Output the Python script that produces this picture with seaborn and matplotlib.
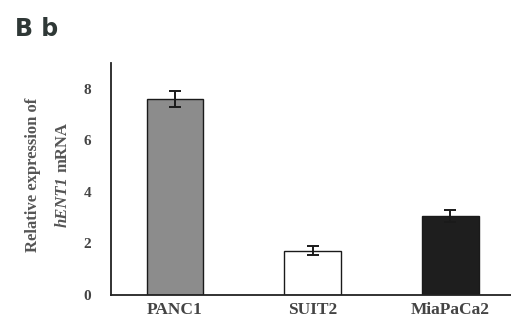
import matplotlib
matplotlib.use("Agg")
import matplotlib.pyplot as plt
import seaborn as sns
import pandas as pd

# Relative hENT1 mRNA expression per pancreatic cancer cell line
cell_lines = ["PANC1", "SUIT2", "MiaPaCa2"]
expression = [7.6, 1.72, 3.07]
sem = [0.32, 0.18, 0.23]
bar_colors = ["#8c8c8c", "#ffffff", "#1e1e1e"]
y_ticks = [0, 2, 4, 6, 8]

sns.set_theme(style="white")
plt.rcParams["font.family"] = ["Liberation Serif", "DejaVu Serif"]

df = pd.DataFrame({"line": cell_lines, "value": expression})

fig = plt.figure(figsize=(5.11, 3.2), dpi=100)
ax = fig.add_axes([0.217, 0.078, 0.783, 0.725])

sns.barplot(data=df, x="line", y="value", hue="line", palette=bar_colors,
            order=cell_lines, hue_order=cell_lines, legend=False,
            width=0.41, edgecolor="#1a1a1a", linewidth=1.0, errorbar=None, ax=ax)

ax.errorbar(range(len(cell_lines)), expression, yerr=sem, fmt="none",
            ecolor="#1a1a1a", elinewidth=1.4, capsize=4, capthick=1.4)

ax.set_ylim(0, 9)
ax.set_xlim(-0.465, 2.44)
ax.set_yticks(y_ticks)
ax.set_yticklabels([str(t) for t in y_ticks], fontsize=11, fontweight="bold", color="#444444")
ax.set_xticks(range(len(cell_lines)))
ax.set_xticklabels(cell_lines, fontsize=12.5, fontweight="bold", color="#444444")
ax.tick_params(axis="y", direction="in", length=2, width=1, color="#333333", pad=14)
ax.tick_params(axis="x", length=0, pad=5)

for side in ["top", "right"]:
    ax.spines[side].set_visible(False)
for side in ["left", "bottom"]:
    ax.spines[side].set_color("#222222")
    ax.spines[side].set_linewidth(1.3)

ax.set_xlabel("")
ax.set_ylabel("")

# two-line y-axis label, gene name in italics
label_kw = dict(rotation=90, ha="center", fontsize=12, fontweight="bold", color="#555555")
fig.text(0.065, 0.455, "Relative expression of", va="center", **label_kw)
gene = fig.text(0.122, 0.29, "hENT1", va="bottom", fontstyle="italic", **label_kw)
fig.canvas.draw()
gene_top = gene.get_window_extent().transformed(fig.transFigure.inverted()).y1
fig.text(0.122, gene_top + 0.012, "mRNA", va="bottom", **label_kw)

fig.text(0.03, 0.91, "B b", ha="left", va="center", fontsize=17, fontweight="bold",
         color="#2f3836", family="DejaVu Sans")

fig.savefig("out.png", dpi=100)
